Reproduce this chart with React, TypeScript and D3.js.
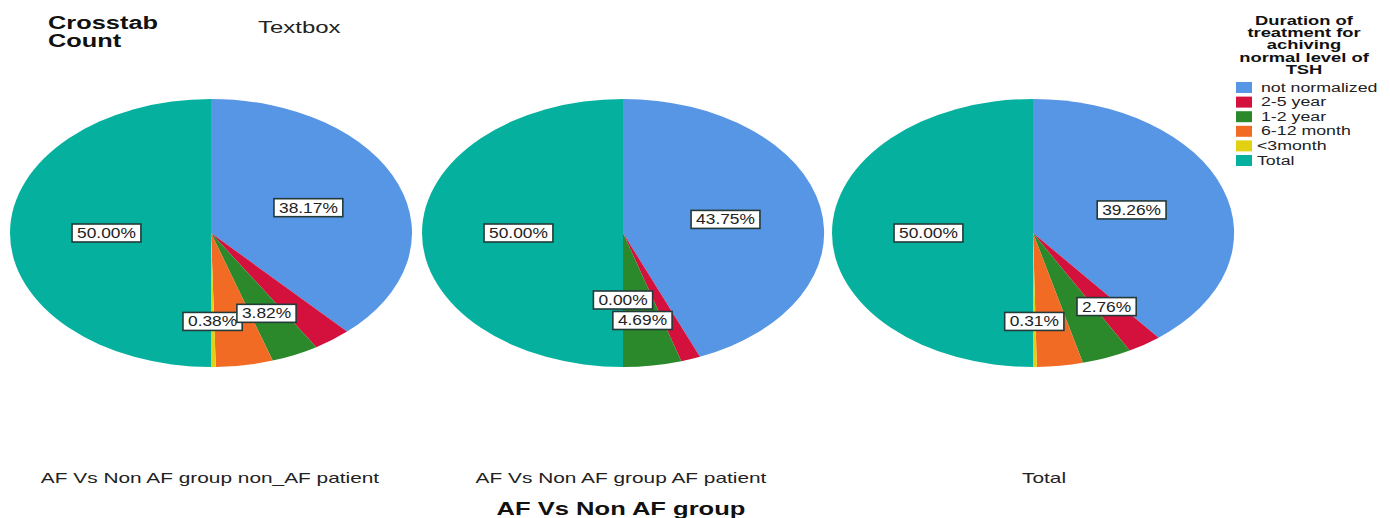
import * as d3 from 'd3';

// slice order, clockwise from 12 o'clock
const categories = ['not normalized', '2-5 year', '1-2 year', '6-12 month', '<3month', 'Total'];
const colors = ['#5795e5', '#d4103c', '#2b892c', '#f26b24', '#e2d112', '#05b19e'];

const groups = ['AF Vs Non AF group non_AF patient', 'AF Vs Non AF group AF patient', 'Total'];

// percentage of each slice, one array per pie
const nonAfValues = [38.17, 3.05, 3.82, 4.58, 0.38, 50.0];
const afValues = [43.75, 1.56, 4.69, 0.0, 0.0, 50.0];
const totalValues = [39.26, 2.76, 3.99, 3.68, 0.31, 50.0];
const pieValues = [nonAfValues, afValues, totalValues];

// which slices carry a label on each pie
const nonAfLabels = ['<3month', 'not normalized', 'Total', '1-2 year'];
const afLabels = ['not normalized', 'Total', '1-2 year', '<3month'];
const totalLabels = ['<3month', 'not normalized', 'Total', '2-5 year'];
const pieLabels = [nonAfLabels, afLabels, totalLabels];

const legendTitle = ['Duration of', 'treatment for', 'achiving', 'normal level of', 'TSH'];

const W = 1390;
const H = 518;
const FONT = 'Liberation Sans, Arial, sans-serif';

// the source picture is stretched sideways, so text gets a horizontal scale
function SText({ x, y, sx, size, bold, anchor, children }: { x: number; y: number; sx: number; size: number; bold?: boolean; anchor?: string; children: any }) {
  return (
    <text
      transform={`translate(${x},${y}) scale(${sx},1)`}
      fontSize={size}
      fontWeight={bold ? 'bold' : 'normal'}
      fontFamily={FONT}
      textAnchor={anchor || 'start'}
      fill={bold ? '#111' : '#222'}
    >
      {children}
    </text>
  );
}

function textWidth(t: string, size: number) {
  // rough Arial advance widths
  let w = 0;
  for (const ch of t) {
    if (ch === '.') w += 0.278;
    else if (ch === '%') w += 0.889;
    else w += 0.556;
  }
  return w * size;
}

function PieChart({ values, labels, cx, cy, rx, ry }: { values: number[]; labels: string[]; cx: number; cy: number; rx: number; ry: number }) {
  const pie = d3.pie<number>().sort(null).value(d => d);
  const arcs = pie(values);
  const arc = d3.arc<d3.PieArcDatum<number>>().innerRadius(0).outerRadius(1);
  const sx = 1.24;

  const placed: { x: number; y: number; w: number; text: string }[] = [];
  labels.map(l => categories.indexOf(l)).forEach(i => {
    const a = arcs[i];
    const mid = (a.startAngle + a.endAngle) / 2;
    const text = `${values[i].toFixed(2)}%`;
    const w = textWidth(text, 14) * sx + 10;
    let f = values[i] >= 30 ? 0.52 : 0.66;
    let x = cx + rx * f * Math.sin(mid);
    let y = cy - ry * f * Math.cos(mid);
    // pull inward when it sits on top of another label
    let guard = 0;
    while (placed.some(p => Math.abs(p.x - x) < w * 0.6 && Math.abs(p.y - y) < 20) && guard < 40) {
      f -= 0.01;
      x = cx + rx * f * Math.sin(mid);
      y = cy - ry * f * Math.cos(mid);
      guard++;
    }
    placed.push({ x, y, w, text });
  });

  return (
    <g>
      <g transform={`translate(${cx},${cy}) scale(${rx},${ry})`}>
        {arcs.map((a, i) => (
          <path key={i} d={arc(a) || ''} fill={colors[i]} />
        ))}
      </g>
      {placed.map((p, i) => (
        <g key={i}>
          <rect x={p.x - p.w / 2} y={p.y - 9} width={p.w} height={18} fill="#fff" stroke="#243a38" strokeWidth={1.6} />
          <SText x={p.x} y={p.y + 5} sx={sx} size={14} anchor="middle">{p.text}</SText>
        </g>
      ))}
    </g>
  );
}

export default function App() {
  const centers = d3.scaleOrdinal<number, number>().domain([0, 1, 2]).range([211, 623, 1033]);
  const labelX = d3.scaleOrdinal<number, number>().domain([0, 1, 2]).range([210, 621, 1044]);

  return (
    <svg width={W} height={H} style={{ position: 'absolute', left: 0, top: 0, background: '#fff' }}>
      <text transform="translate(48,29) scale(1.41,1)" fontSize={18} fontWeight="bold" fontFamily={FONT} fill="#111">
        <tspan x={0}>Crosstab</tspan>
        <tspan x={0} dy={18}>Count</tspan>
      </text>
      <SText x={258} y={33} sx={1.41} size={17}>Textbox</SText>

      {pieValues.map((vals, i) => (
        <PieChart key={i} values={vals} labels={pieLabels[i]} cx={centers(i)} cy={233} rx={201} ry={134} />
      ))}

      {groups.map((g, i) => (
        <SText key={g} x={labelX(i)} y={483} sx={1.49} size={14} anchor="middle">{g}</SText>
      ))}
      <SText x={621} y={515} sx={1.42} size={18} bold anchor="middle">AF Vs Non AF group</SText>

      <text transform="translate(1304,24.5) scale(1.47,1)" fontSize={12.5} fontWeight="bold" fontFamily={FONT} textAnchor="middle" fill="#111">
        {legendTitle.map((t, i) => (
          <tspan key={t} x={0} dy={i === 0 ? 0 : 12.5}>{t}</tspan>
        ))}
      </text>
      {categories.map((c, i) => (
        <g key={c}>
          <rect x={1236} y={82 + i * 14.6} width={16} height={11} fill={colors[i]} />
          <SText x={i < 4 ? 1261 : 1257} y={91.5 + i * 14.6} sx={1.42} size={12.5}>{c}</SText>
        </g>
      ))}
    </svg>
  );
}
